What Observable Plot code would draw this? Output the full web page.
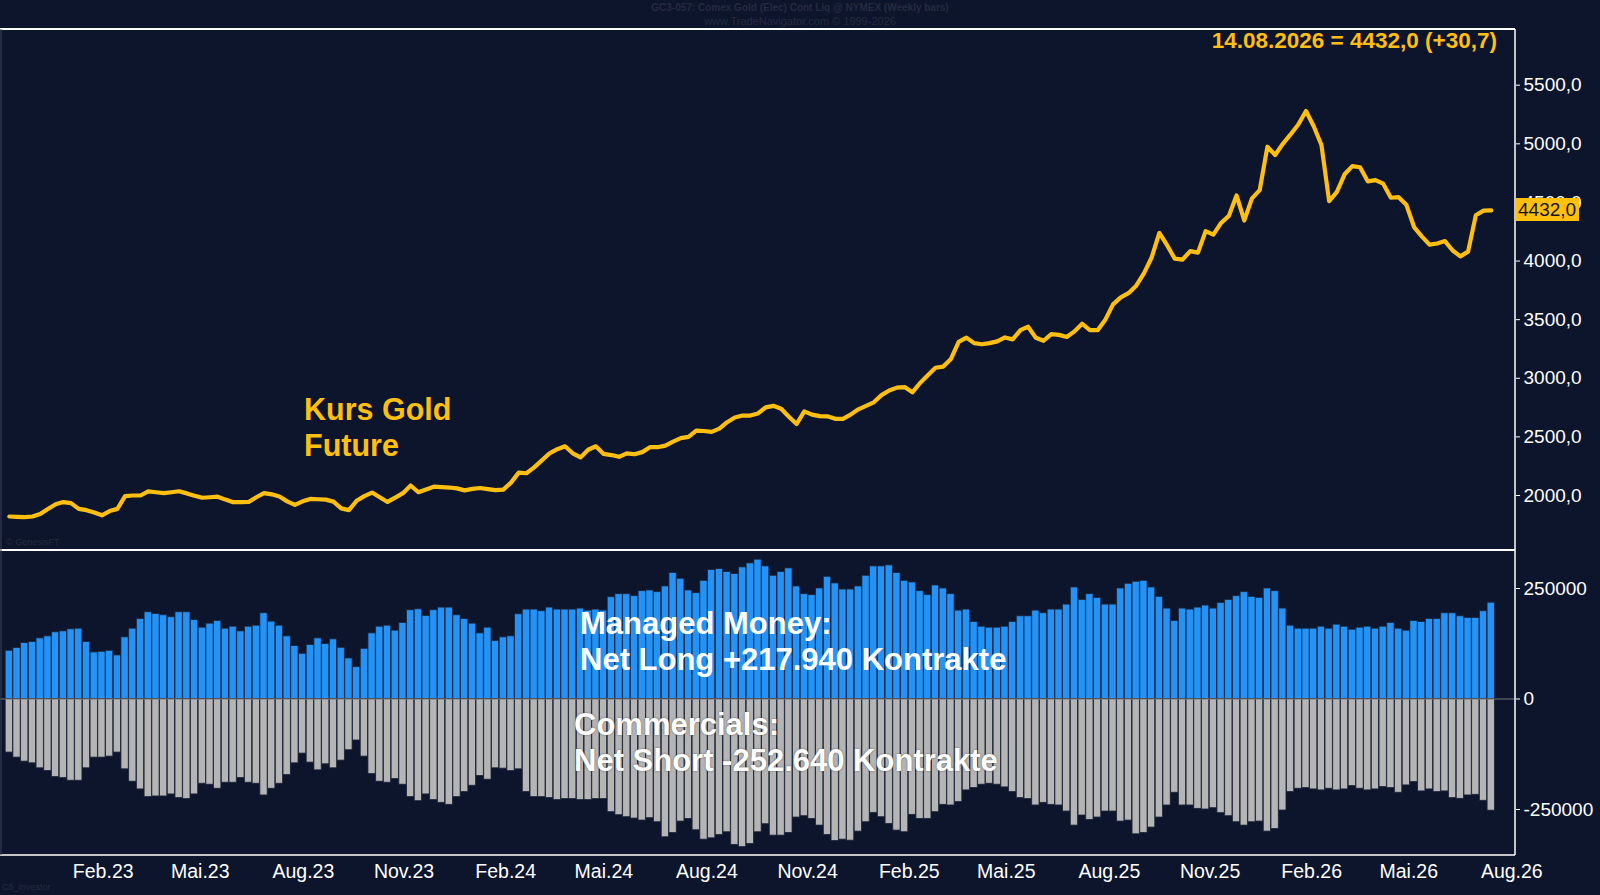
<!DOCTYPE html>
<html><head><meta charset="utf-8">
<script src="https://cdn.jsdelivr.net/npm/d3@7"></script>
<script src="https://cdn.jsdelivr.net/npm/@observablehq/plot@0.6"></script>
<style>
body{margin:0;background:#0d152c;}
#wrap{position:relative;width:1600px;height:895px;background:#0d152c;overflow:hidden;font-family:"Liberation Sans",Arial,sans-serif;}
#wrap svg{position:absolute;left:0;overflow:visible;}
.t{position:absolute;white-space:nowrap;}
</style></head><body><div id="wrap"></div>
<script>
const lastDate = new Date(Date.UTC(2026,7,14));
const price = [1821,1818,1816,1821,1843,1885,1925,1944,1935,1886,1875,1855,1831,1867,1886,1995,2000,2000,2035,2028,
2020,2028,2036,2018,1998,1981,1985,1990,1965,1943,1943,1945,1985,2020,2010,1992,1950,1920,1950,1971,
1968,1965,1948,1890,1875,1955,1995,2025,1985,1945,1982,2020,2085,2028,2052,2075,2071,2068,2061,2044,
2056,2064,2055,2046,2050,2110,2195,2190,2240,2300,2360,2395,2420,2360,2325,2390,2420,2355,2345,2330,
2360,2352,2370,2412,2412,2425,2460,2490,2500,2553,2550,2543,2570,2625,2665,2682,2682,2700,2752,2765,
2740,2672,2610,2718,2690,2677,2675,2654,2654,2690,2735,2765,2795,2856,2896,2920,2925,2880,2960,3025,
3090,3100,3165,3310,3347,3300,3290,3300,3315,3348,3332,3410,3440,3345,3320,3376,3370,3352,3400,3465,
3410,3410,3500,3630,3690,3726,3790,3895,4030,4240,4135,4020,4012,4085,4072,4255,4226,4325,4385,4560,
4346,4535,4605,4975,4905,5000,5080,5165,5280,5150,4990,4510,4590,4740,4810,4800,4680,4690,4660,4540,
4545,4480,4290,4210,4140,4150,4170,4090,4040,4080,4390,4430,4432];
const managedMoneyK = [109.1,115.2,126.5,128.8,137.1,141.7,150.8,153.0,157.6,159.1,128.8,105.3,106.8,109.1,98.5,139.4,159.1,181.1,196.2,192.4,
189.4,184.9,196.2,196.2,178.8,161.4,170.5,176.5,159.1,163.6,153.0,163.6,165.9,193.9,175.0,165.9,141.7,119.7,102.3,122.0,
137.1,124.2,134.9,115.9,91.7,72.0,113.6,148.5,163.6,165.9,154.6,172.0,200.8,203.0,187.9,200.8,206.8,206.8,189.4,181.1,
170.5,148.5,161.4,131.1,
139.4,141.7,191.7,202.3,202.3,198.5,206.8,202.3,202.3,202.3,204.6,200.0,202.3,200.0,230.3,237.1,237.1,232.6,243.9,245.5,
241.7,254.6,284.9,272.0,245.5,239.4,267.4,291.7,293.9,287.1,282.6,297.7,306.8,315.2,300.0,278.8,287.1,295.5,254.6,237.1,
234.9,250.0,276.5,261.4,247.7,247.7,254.6,278.8,300.0,300.0,302.3,284.9,267.4,263.6,243.9,234.9,256.8,250.0,237.1,200.0,
202.3,174.2,163.6,161.4,
161.4,163.6,174.2,187.1,187.1,200.0,193.9,202.3,202.3,213.6,252.3,224.2,237.1,228.8,213.6,213.6,250.0,260.6,265.2,267.4,
252.3,231.1,204.6,176.5,204.6,202.3,206.8,211.4,204.6,217.4,224.2,232.6,241.7,231.1,228.8,250.0,243.9,204.6,165.9,159.1,
159.1,159.1,163.6,159.1,168.2,163.6,156.8,161.4,163.6,159.1,163.6,172.0,159.1,154.6,176.5,174.2,181.1,181.1,193.9,193.9,
187.1,183.3,183.3,198.5,217.9];
const commercialsK = [-121.2,-132.6,-141.7,-145.5,-156.8,-162.9,-176.5,-178.8,-184.9,-184.9,-156.8,-132.6,-132.6,-130.3,-121.2,-159.1,-187.1,-204.6,-222.0,-220.5,
-220.5,-215.9,-224.2,-226.5,-215.9,-191.7,-193.9,-203.0,-189.4,-189.4,-178.8,-189.4,-191.7,-218.2,-203.0,-191.7,-172.0,-145.5,-123.5,-143.9,
-161.4,-147.7,-156.8,-139.4,-115.9,-93.9,-130.3,-169.7,-187.1,-189.4,-181.1,-193.9,-222.0,-231.1,-215.9,-228.8,-234.9,-239.4,-222.0,-210.6,
-196.2,-174.2,-182.6,-156.8,
-157.6,-162.9,-159.1,-210.6,-222.0,-222.0,-224.2,-228.8,-226.5,-226.5,-228.8,-228.8,-226.5,-226.5,-256.1,-262.9,-267.4,-270.5,-275.0,-269.7,
-278.8,-312.9,-303.0,-277.3,-271.2,-297.0,-318.2,-315.2,-307.6,-301.5,-330.0,-335.0,-328.0,-301.5,-283.3,-309.1,-309.1,-303.0,-268.2,-265.2,
-271.2,-286.4,-307.6,-321.2,-318.2,-320.5,-300.0,-278.8,-257.6,-267.4,-282.6,-297.7,-301.5,-262.1,-271.2,-271.2,-256.1,-239.4,-240.9,-233.3,
-206.8,-201.5,-193.9,-191.7,
-193.9,-200.0,-210.6,-224.2,-226.5,-240.9,-234.9,-239.4,-240.9,-254.6,-286.4,-263.6,-273.5,-268.2,-254.6,-254.6,-277.3,-275.0,-306.1,-303.0,
-290.9,-268.2,-240.9,-212.1,-240.9,-240.9,-248.5,-250.0,-247.0,-258.3,-265.2,-278.8,-286.4,-278.8,-277.3,-300.0,-293.9,-252.3,-210.6,-203.0,
-201.5,-204.6,-206.8,-203.0,-206.8,-204.6,-197.0,-203.0,-206.8,-204.6,-199.2,-201.5,-212.1,-195.5,-187.9,-209.1,-204.6,-210.6,-209.1,-224.2,
-225.8,-218.2,-216.7,-230.3,-252.6];
const priceTicks = [2000,2500,3000,3500,4000,4500,5000,5500];
const cotTicks = [250000,0,-250000];
const monthNames = {1:"Feb",4:"Mai",7:"Aug",10:"Nov"};
const headerLine1 = "GC3-057: Comex Gold (Elec) Cont Liq @ NYMEX  (Weekly bars)";
const headerLine2 = "www.TradeNavigator.com © 1999-2026";

const DAY = 864e5;
const n = price.length;
const data = price.map((p,i)=>({
  date: d3.utcWeek.offset(lastDate, i-(n-1)),
  price: p,
  mm: managedMoneyK[i]*1000,
  com: commercialsK[i]*1000
}));
const xDomain = [new Date(+data[0].date - 8*DAY), new Date(+lastDate + 22*DAY)];
const monthTicks = d3.utcMonths(new Date(Date.UTC(2023,0,15)), new Date(Date.UTC(2026,8,1))).filter(d=>monthNames[d.getUTCMonth()]);
const fmtMonth = d => monthNames[d.getUTCMonth()] + "." + String(d.getUTCFullYear()).slice(2);
const GOLD = "#ffbf0f";
const wrap = document.getElementById("wrap");
const bx1 = d => new Date(+d.date - 3.3*DAY), bx2 = d => new Date(+d.date + 3.3*DAY);

const topPlot = Plot.plot({
  width:1600, height:552, marginLeft:0, marginRight:85, marginTop:84.7, marginBottom:57,
  style:{background:"transparent", overflow:"visible"},
  x:{type:"utc", domain:xDomain, axis:null},
  y:{domain:[2000,5500], axis:null},
  marks:[
    Plot.axisY({anchor:"right", ticks:priceTicks, tickFormat:d=>d.toFixed(1).replace(".",","), tickSize:4, tickPadding:4,
      stroke:"#fff", fill:"#fff", fontSize:19, fontFamily:"Liberation Sans, Arial", label:null}),
    Plot.line(data,{x:"date", y:"price", stroke:GOLD, strokeWidth:4.2, strokeLinejoin:"round"})
  ]
});
topPlot.style.top="0px";
wrap.appendChild(topPlot);

const botPlot = Plot.plot({
  width:1600, height:344, marginLeft:0, marginRight:85, marginTop:37, marginBottom:86,
  style:{background:"transparent", overflow:"visible"},
  x:{type:"utc", domain:xDomain, axis:null},
  y:{domain:[-250000,250000], axis:null},
  marks:[
    Plot.rectY(data,{x1:bx1, x2:bx2, y1:0, y2:"mm", fill:"#2393f7", stroke:"#1b2438", strokeWidth:0.8}),
    Plot.rectY(data,{x1:bx1, x2:bx2, y1:0, y2:"com", fill:"#b5b5b5", stroke:"#1b2438", strokeWidth:0.8}),
    Plot.ruleY([0],{stroke:"#777", strokeWidth:1}),
    Plot.axisY({anchor:"right", ticks:cotTicks, tickFormat:d=>String(d), tickSize:4, tickPadding:4,
      stroke:"#fff", fill:"#fff", fontSize:19, fontFamily:"Liberation Sans, Arial", label:null}),
    Plot.axisX({ticks:monthTicks, tickFormat:fmtMonth, tickSize:0, tickPadding:0, dy:55, textAnchor:"start", dx:4,
      fill:"#fff", fontSize:19.5, fontFamily:"Liberation Sans, Arial", label:null})
  ]
});
botPlot.style.top="551px";
wrap.appendChild(botPlot);

const frame = d3.select(wrap).append("svg").attr("width",1600).attr("height",895).style("top","0px").style("pointer-events","none");
frame.append("line").attr("x1",0).attr("x2",1515).attr("y1",29).attr("y2",29).attr("stroke","#fff").attr("stroke-width",2);
frame.append("line").attr("x1",0).attr("x2",1515).attr("y1",550).attr("y2",550).attr("stroke","#fff").attr("stroke-width",2);
frame.append("line").attr("x1",0).attr("x2",1515).attr("y1",855).attr("y2",855).attr("stroke","#fff").attr("stroke-width",1.5);
frame.append("line").attr("x1",1515).attr("x2",1515).attr("y1",29).attr("y2",855).attr("stroke","#fff").attr("stroke-width",1.5);
frame.append("line").attr("x1",1).attr("x2",1).attr("y1",29).attr("y2",855).attr("stroke","#3a4258").attr("stroke-width",1);

function txt(s, css){const d=document.createElement("div");d.className="t";d.textContent=s;Object.assign(d.style,css);wrap.appendChild(d);return d;}
txt(headerLine1,{left:"0",width:"1600px",textAlign:"center",top:"2px",fontSize:"10px",fontWeight:"bold",color:"#262b3c"});
txt(headerLine2,{left:"0",width:"1600px",textAlign:"center",top:"15px",fontSize:"11px",color:"#262b3c"});
txt("14.08.2026 = 4432,0 (+30,7)",{right:"103px",top:"28px",fontSize:"22.5px",fontWeight:"bold",color:GOLD});
txt("Kurs Gold",{left:"304px",top:"392px",fontSize:"30.5px",fontWeight:"bold",color:GOLD});
txt("Future",{left:"304px",top:"428px",fontSize:"30.5px",fontWeight:"bold",color:GOLD});
txt("© GenesisFT",{left:"6px",top:"537px",fontSize:"9px",color:"#262b3c"});
txt("C5_Investor",{left:"2px",top:"882px",fontSize:"9px",color:"#262b3c"});
txt("Managed Money:",{left:"580px",top:"606px",fontSize:"31px",fontWeight:"bold",color:"#fff"});
txt("Net Long +217.940 Kontrakte",{left:"580px",top:"642px",fontSize:"31px",fontWeight:"bold",color:"#fff"});
txt("Commercials:",{left:"574px",top:"707px",fontSize:"31px",fontWeight:"bold",color:"#fff",textShadow:"0 0 2px #555"});
txt("Net Short -252.640 Kontrakte",{left:"574px",top:"743px",fontSize:"31px",fontWeight:"bold",color:"#fff",textShadow:"0 0 2px #555"});
const yLast = topPlot.scale("y").apply(price[n-1]);
txt("4432,0",{left:"1516px",top:(yLast-12)+"px",fontSize:"19px",color:"#0d152c",background:GOLD,padding:"0 3px 0 2px",lineHeight:"23px"});
</script></body></html>
